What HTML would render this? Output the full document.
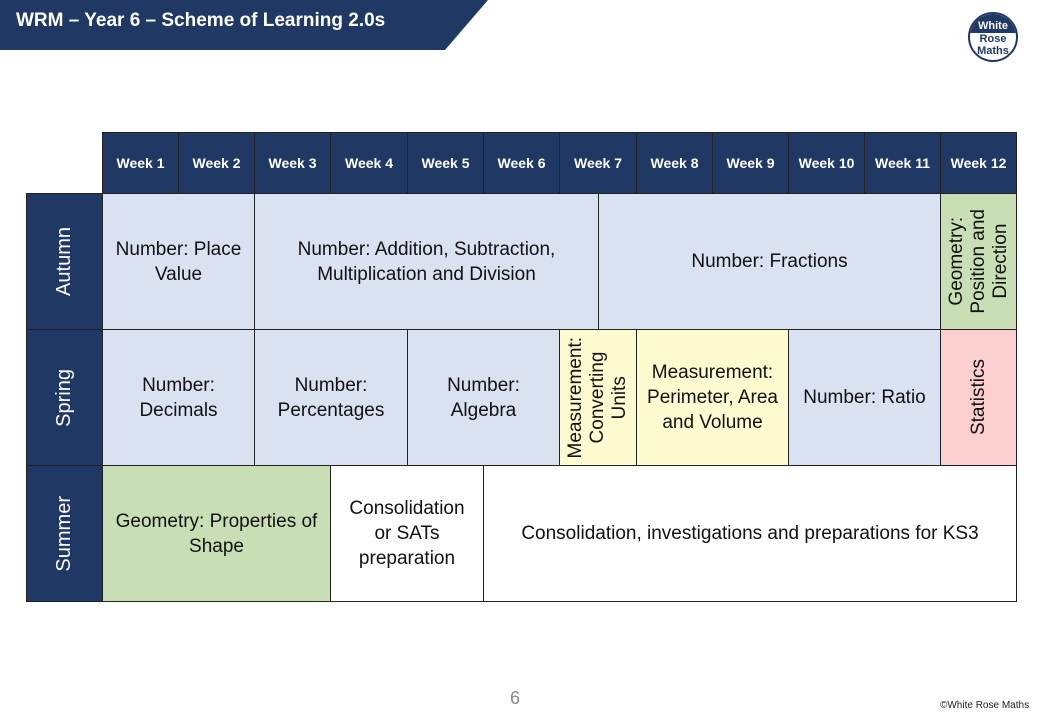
<!DOCTYPE html>
<html><head><style>
body{margin:0;width:1037px;height:716px;background:#fff;position:relative;overflow:hidden;font-family:"Liberation Sans",sans-serif;}
.c{position:absolute;box-sizing:border-box;border:1px solid #222;display:flex;align-items:center;justify-content:center;text-align:center;color:#111;font-size:19px;line-height:25px;}
.h{background:#1f3864;color:#fff;font-size:14px;font-weight:bold;}
.s{background:#1f3864;color:#fff;font-size:20px;}
.s span,.v span{writing-mode:vertical-rl;transform:rotate(180deg);}
.b{background:#dae1f1}.y{background:#fffbd0}.g{background:#c8dfb5}.p{background:#fbcfcf}.w{background:#fff}
</style></head><body>
<svg style="position:absolute;left:0;top:0" width="500" height="51"><polygon points="0,0 488,0 445,50 0,50" fill="#1f3864"/></svg>
<div style="position:absolute;left:16px;top:10px;color:#fff;font-size:19px;font-weight:bold;">WRM – Year 6 – Scheme of Learning 2.0s</div>
<div style="position:absolute;left:968px;top:12px;width:50px;height:50px;border:2px solid #1f3864;border-radius:50%;overflow:hidden;box-sizing:border-box;background:#fff;text-align:center;font-size:11px;font-weight:bold;line-height:12px;color:#1f3864">
<div style="background:#1f3864;color:#fff;padding-top:6px;height:13px">White</div><div>Rose<br>Maths</div></div>

<div class="c h" style="left:102px;top:132px;width:77px;height:62px">Week 1</div>
<div class="c h" style="left:178px;top:132px;width:77px;height:62px">Week 2</div>
<div class="c h" style="left:254px;top:132px;width:77px;height:62px">Week 3</div>
<div class="c h" style="left:330px;top:132px;width:78px;height:62px">Week 4</div>
<div class="c h" style="left:407px;top:132px;width:77px;height:62px">Week 5</div>
<div class="c h" style="left:483px;top:132px;width:77px;height:62px">Week 6</div>
<div class="c h" style="left:559px;top:132px;width:78px;height:62px">Week 7</div>
<div class="c h" style="left:636px;top:132px;width:77px;height:62px">Week 8</div>
<div class="c h" style="left:712px;top:132px;width:77px;height:62px">Week 9</div>
<div class="c h" style="left:788px;top:132px;width:77px;height:62px">Week 10</div>
<div class="c h" style="left:864px;top:132px;width:77px;height:62px">Week 11</div>
<div class="c h" style="left:940px;top:132px;width:77px;height:62px">Week 12</div>

<div class="c s" style="left:26px;top:193px;width:77px;height:137px"><span>Autumn</span></div>
<div class="c s" style="left:26px;top:329px;width:77px;height:137px"><span>Spring</span></div>
<div class="c s" style="left:26px;top:465px;width:77px;height:137px"><span>Summer</span></div>

<div class="c b" style="left:102px;top:193px;width:153px;height:137px">Number: Place<br>Value</div>
<div class="c b" style="left:254px;top:193px;width:345px;height:137px">Number: Addition, Subtraction,<br>Multiplication and Division</div>
<div class="c b" style="left:598px;top:193px;width:343px;height:137px">Number: Fractions</div>
<div class="c g v" style="left:940px;top:193px;width:77px;height:137px;line-height:22px"><span>Geometry:<br>Position and<br>Direction</span></div>

<div class="c b" style="left:102px;top:329px;width:153px;height:137px">Number:<br>Decimals</div>
<div class="c b" style="left:254px;top:329px;width:154px;height:137px">Number:<br>Percentages</div>
<div class="c b" style="left:407px;top:329px;width:153px;height:137px">Number:<br>Algebra</div>
<div class="c y v" style="left:559px;top:329px;width:78px;height:137px;line-height:22px"><span>Measurement:<br>Converting<br>Units</span></div>
<div class="c y" style="left:636px;top:329px;width:153px;height:137px">Measurement:<br>Perimeter, Area<br>and Volume</div>
<div class="c b" style="left:788px;top:329px;width:153px;height:137px">Number: Ratio</div>
<div class="c p v" style="left:940px;top:329px;width:77px;height:137px"><span>Statistics</span></div>

<div class="c g" style="left:102px;top:465px;width:229px;height:137px">Geometry: Properties of<br>Shape</div>
<div class="c w" style="left:330px;top:465px;width:154px;height:137px">Consolidation<br>or SATs<br>preparation</div>
<div class="c w" style="left:483px;top:465px;width:534px;height:137px">Consolidation, investigations and preparations for KS3</div>

<div style="position:absolute;left:510px;top:688px;color:#888;font-size:18px">6</div>
<div style="position:absolute;left:940px;top:700px;color:#222;font-size:10px">©White Rose Maths</div>
</body></html>
